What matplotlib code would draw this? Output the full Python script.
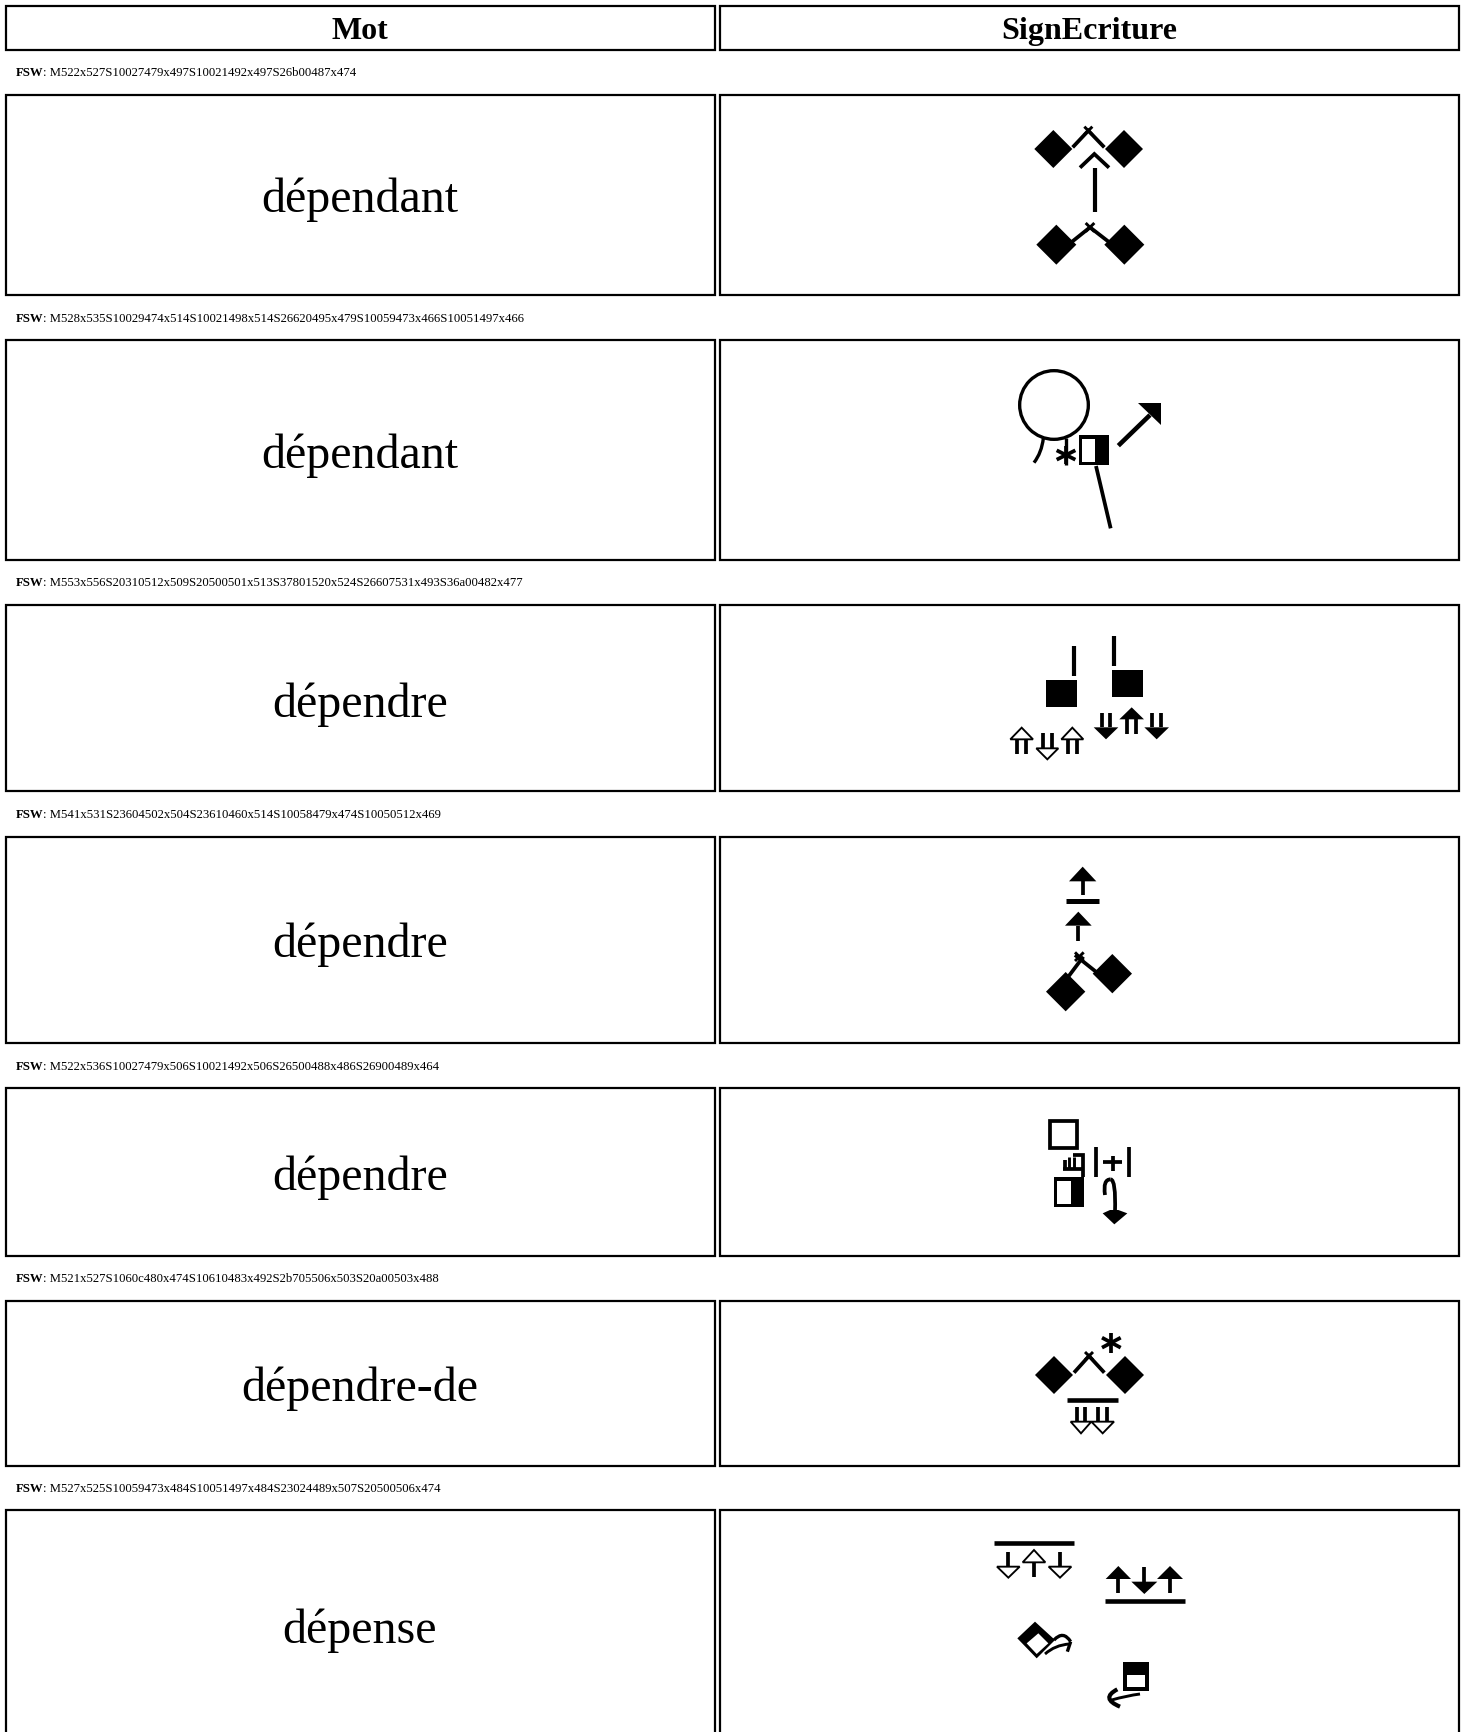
import matplotlib
matplotlib.use('Agg')
import matplotlib.pyplot as plt
from matplotlib.patches import Polygon, Rectangle, Circle, PathPatch
from matplotlib.path import Path
from matplotlib.transforms import Affine2D

plt.rcParams['font.family'] = ['Liberation Serif', 'DejaVu Serif']

words = ['dépendant', 'dépendant', 'dépendre', 'dépendre', 'dépendre', 'dépendre-de', 'dépense']
fsw = ['M522x527S10027479x497S10021492x497S26b00487x474',
       'M528x535S10029474x514S10021498x514S26620495x479S10059473x466S10051497x466',
       'M553x556S20310512x509S20500501x513S37801520x524S26607531x493S36a00482x477',
       'M541x531S23604502x504S23610460x514S10058479x474S10050512x469',
       'M522x536S10027479x506S10021492x506S26500488x486S26900489x464',
       'M521x527S1060c480x474S10610483x492S2b705506x503S20a00503x488',
       'M527x525S10059473x484S10051497x484S23024489x507S20500506x474']
headers = ['Mot', 'SignEcriture']

col_left = [5.5, 720]
col_right = [714.5, 1459]
row_top = [95, 340, 605, 837, 1088, 1301, 1510]
row_bottom = [295, 560, 791, 1043, 1256, 1466, 1745]
word_y = [195, 451, 700, 940, 1173, 1384, 1626]

fig = plt.figure(figsize=(14.68, 17.32), dpi=100)
ax = fig.add_axes([0, 0, 1, 1])
ax.set_xlim(0, 1468)
ax.set_ylim(1732, 0)
ax.axis('off')


def px(lw):
    # zoomed units (3x) to points, a bit thicker because the reference is blurred
    return 1.25 * lw / 3 * 0.72


def origin(x0, y0):
    return Affine2D().scale(1 / 3).translate(x0, y0) + ax.transData


def line(tr, pts, lw=8):
    xs = [p[0] for p in pts]
    ys = [p[1] for p in pts]
    ax.plot(xs, ys, color='black', lw=px(lw), transform=tr, solid_capstyle='butt', solid_joinstyle='miter')


def poly(tr, pts, fc='black', lw=0):
    ax.add_patch(Polygon(pts, closed=True, fc=fc, ec='black', lw=px(lw), transform=tr, joinstyle='miter'))


def rect(tr, x0, y0, x1, y1, fc='black', lw=0):
    ax.add_patch(Rectangle((x0, y0), x1 - x0, y1 - y0, fc=fc, ec='black', lw=px(lw), transform=tr))


def diamond(tr, cx, cy, r):
    poly(tr, [(cx - r, cy), (cx, cy - r), (cx + r, cy), (cx, cy + r)])


def curve(tr, p0, p1, p2, lw=8):
    path = Path([p0, p1, p2], [Path.MOVETO, Path.CURVE3, Path.CURVE3])
    ax.add_patch(PathPatch(path, fc='none', ec='black', lw=px(lw), transform=tr, capstyle='butt'))


def xmark(tr, cx, cy, r=14):
    line(tr, [(cx - r, cy - r), (cx + r, cy + r)], 7)
    line(tr, [(cx - r, cy + r), (cx + r, cy - r)], 7)


def star(tr, cx, cy, h=30, w=28):
    line(tr, [(cx, cy - h), (cx, cy + h)], 9)
    line(tr, [(cx - w, cy - h / 2), (cx + w, cy + h / 2)], 9)
    line(tr, [(cx - w, cy + h / 2), (cx + w, cy - h / 2)], 9)


def up_arrow(tr, x, top, base, end, hw, fill='black', double=0):
    if double:
        line(tr, [(x - double, base), (x - double, end)], 9)
        line(tr, [(x + double, base), (x + double, end)], 9)
    else:
        line(tr, [(x, base), (x, end)], 9)
    poly(tr, [(x - hw, base), (x, top), (x + hw, base)], fc=fill, lw=4.5 if fill == 'white' else 0)


def down_arrow(tr, x, start, base, tip, hw, fill='black', double=0):
    if double:
        line(tr, [(x - double, start), (x - double, base)], 9)
        line(tr, [(x + double, start), (x + double, base)], 9)
    else:
        line(tr, [(x, start), (x, base)], 9)
    poly(tr, [(x - hw, base), (x, tip), (x + hw, base)], fc=fill, lw=4.5 if fill == 'white' else 0)


def glyph_1():
    t = origin(980, 100)
    diamond(t, 220, 147, 57)
    diamond(t, 432, 147, 57)
    line(t, [(278, 142), (325, 92), (373, 142)], 9)
    xmark(t, 325, 92, 12)
    line(t, [(300, 203), (343, 162), (387, 203)], 9)
    line(t, [(344, 205), (344, 335)], 10)
    diamond(t, 229, 434, 60)
    diamond(t, 433, 434, 60)
    line(t, [(270, 430), (330, 382), (392, 430)], 9)
    xmark(t, 330, 382, 13)


def glyph_2():
    t = origin(980, 350)
    ax.add_patch(Circle((222, 165), 103, fc='white', ec='black', lw=px(8), transform=t))
    curve(t, (190, 265), (185, 308), (162, 338), 8)
    line(t, [(258, 265), (258, 345)], 8)
    star(t, 258, 315, 28, 28)
    rect(t, 297, 256, 386, 346)
    rect(t, 306, 268, 345, 335, fc='white')
    line(t, [(415, 287), (510, 195)], 11)
    poly(t, [(475, 160), (543, 160), (543, 225)])
    line(t, [(348, 348), (392, 535)], 9)


def glyph_3():
    t = origin(990, 620)
    line(t, [(253, 78), (253, 168)], 10)
    rect(t, 168, 180, 260, 260)
    line(t, [(373, 48), (373, 138)], 10)
    rect(t, 367, 150, 458, 230)
    up_arrow(t, 95, 323, 358, 403, 34, 'white', 13)
    down_arrow(t, 172, 340, 385, 418, 33, 'white', 13)
    up_arrow(t, 247, 323, 358, 403, 33, 'white', 13)
    down_arrow(t, 348, 280, 322, 358, 37, 'black', 13)
    up_arrow(t, 425, 262, 298, 342, 37, 'black', 13)
    down_arrow(t, 500, 280, 322, 358, 37, 'black', 13)


def glyph_4():
    t = origin(1020, 850)
    up_arrow(t, 188, 50, 94, 135, 41)
    line(t, [(139, 153), (236, 153)], 12)
    up_arrow(t, 175, 185, 227, 273, 40)
    diamond(t, 137, 425, 59)
    diamond(t, 277, 371, 59)
    line(t, [(145, 380), (190, 320)], 9)
    line(t, [(165, 315), (240, 375)], 9)
    xmark(t, 178, 320, 13)


def glyph_5():
    t = origin(1030, 1100)
    rect(t, 60, 63, 140, 143, fc='white', lw=9)
    rect(t, 72, 232, 162, 322)
    rect(t, 82, 243, 122, 312, fc='white')
    line(t, [(100, 208), (160, 208)], 9)
    line(t, [(104, 180), (104, 208)], 9)
    line(t, [(118, 172), (118, 208)], 7)
    line(t, [(133, 172), (133, 208)], 7)
    line(t, [(130, 166), (160, 166), (160, 232)], 9)
    line(t, [(198, 142), (198, 230)], 9)
    line(t, [(298, 142), (298, 230)], 9)
    line(t, [(220, 187), (277, 187)], 9)
    line(t, [(248, 167), (248, 212)], 9)
    curve(t, (225, 285), (218, 238), (242, 238), 9)
    curve(t, (242, 238), (258, 240), (255, 335), 9)
    poly(t, [(218, 340), (240, 330), (265, 330), (292, 340), (253, 373)])


def glyph_6():
    t = origin(1020, 1320)
    diamond(t, 102, 165, 57)
    diamond(t, 315, 165, 57)
    line(t, [(162, 158), (207, 108), (253, 158)], 9)
    xmark(t, 207, 108, 12)
    star(t, 274, 68, 30, 28)
    line(t, [(142, 241), (293, 241)], 11)
    down_arrow(t, 183, 262, 305, 340, 31, 'white', 13)
    down_arrow(t, 248, 262, 305, 340, 34, 'white', 14)


def glyph_7():
    t = origin(980, 1530)
    line(t, [(42, 39), (283, 39)], 11)
    down_arrow(t, 85, 65, 110, 143, 34, 'white')
    up_arrow(t, 162, 60, 97, 140, 34, 'white')
    down_arrow(t, 240, 65, 110, 143, 34, 'white')
    up_arrow(t, 415, 108, 147, 190, 38)
    down_arrow(t, 493, 112, 155, 192, 39)
    up_arrow(t, 570, 108, 147, 190, 39)
    line(t, [(375, 213), (615, 213)], 11)
    poly(t, [(112, 325), (165, 275), (225, 330), (170, 385)])
    poly(t, [(175, 310), (205, 340), (170, 372), (140, 340)], fc='white')
    curve(t, (195, 372), (225, 345), (268, 342), 7)
    curve(t, (222, 330), (250, 300), (272, 335), 8)
    line(t, [(272, 335), (262, 365)], 8)
    rect(t, 428, 395, 506, 482)
    rect(t, 440, 435, 496, 472, fc='white')
    curve(t, (480, 492), (440, 497), (395, 510), 7)
    curve(t, (412, 478), (360, 505), (420, 530), 10)


# header row
for x0, x1, h in zip(col_left, col_right, headers):
    ax.add_patch(Rectangle((x0, 5.5), x1 - x0, 44.5, fc='white', ec='black', lw=1.6))
    ax.text((x0 + x1) / 2, 28, h, ha='center', va='center_baseline', fontsize=23, fontweight='bold')

# table rows
for i in range(len(words)):
    for x0, x1 in zip(col_left, col_right):
        ax.add_patch(Rectangle((x0, row_top[i]), x1 - x0, row_bottom[i] - row_top[i],
                               fc='white', ec='black', lw=1.6, clip_on=True))
    ax.text((col_left[0] + col_right[0]) / 2, word_y[i], words[i], ha='center', va='center_baseline', fontsize=34.6)
    tx = ax.text(15.5, row_top[i] - 23, 'FSW', ha='left', va='center_baseline', fontsize=9.2, fontweight='bold')
    ax.annotate(': ' + fsw[i], xy=(1, 0), xycoords=tx, va='bottom', ha='left', fontsize=9.2)

for g in [glyph_1, glyph_2, glyph_3, glyph_4, glyph_5, glyph_6, glyph_7]:
    g()

ax.set_xlim(0, 1468)
ax.set_ylim(1732, 0)
fig.savefig('out.png', dpi=100, facecolor='white')
